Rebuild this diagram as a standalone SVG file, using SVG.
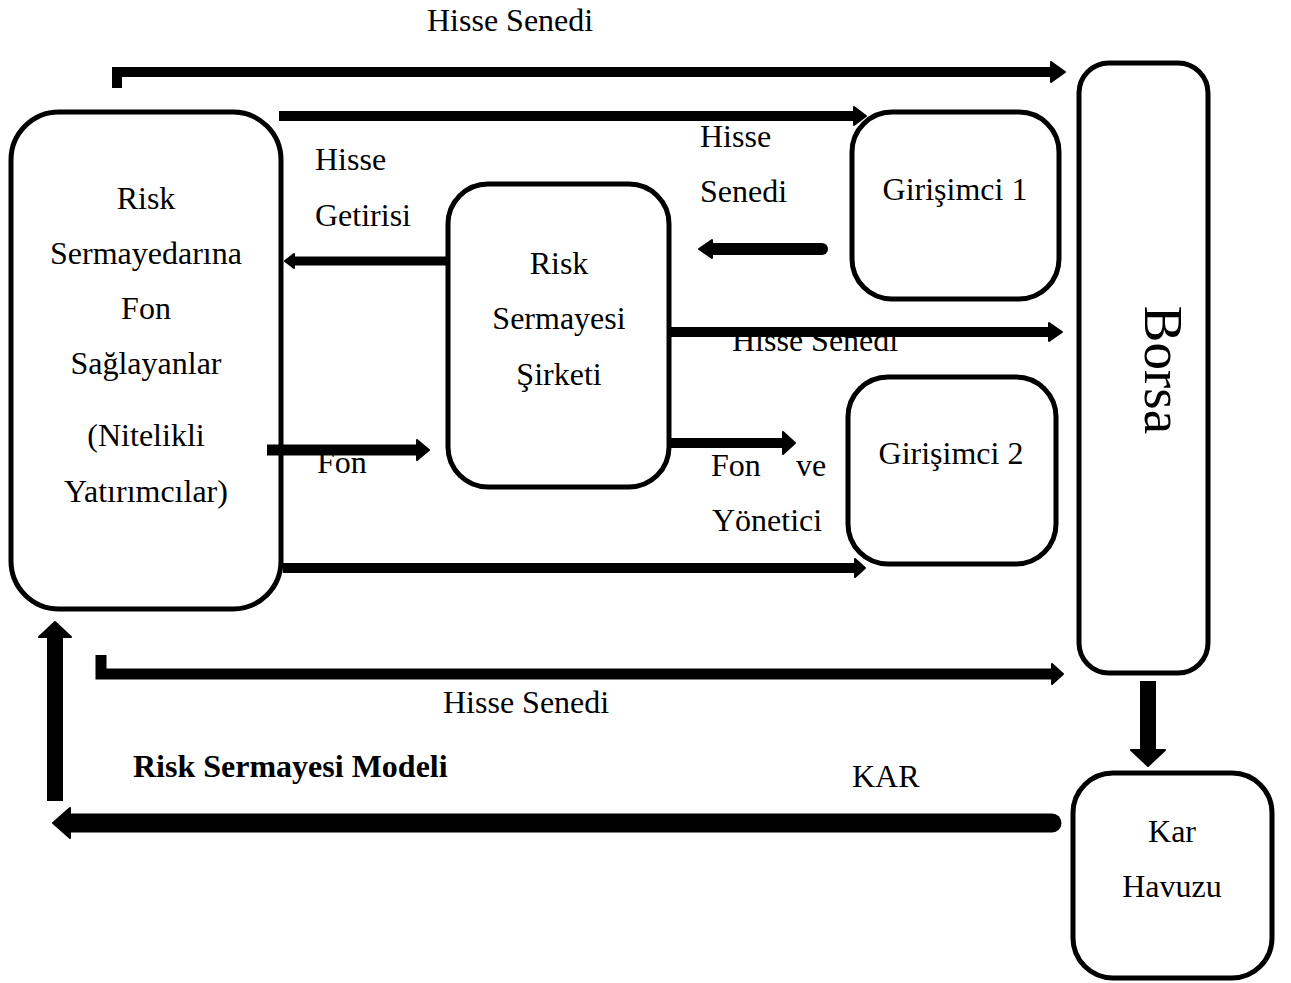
<svg xmlns="http://www.w3.org/2000/svg" width="1291" height="983" viewBox="0 0 1291 983">
<style>
.t{font-family:"Liberation Serif","Times New Roman",serif;font-size:32px;fill:#000}
.c{text-anchor:middle}
.b{font-weight:bold}
.node{fill:#fff;stroke:#000;stroke-width:5}
.bar{fill:none;stroke:#000;stroke-linejoin:miter}
.head{fill:#000;stroke:#000;stroke-width:2;stroke-linejoin:round}
</style>
<rect width="1291" height="983" fill="#fff"/>
<g id="node-fon-saglayanlar">
<rect class="node" x="11" y="112" width="270" height="497" rx="48"/>
<text class="t c" x="146" y="209">Risk</text>
<text class="t c" x="146" y="264">Sermayedarına</text>
<text class="t c" x="146" y="319">Fon</text>
<text class="t c" x="146" y="374">Sağlayanlar</text>
<text class="t c" x="146" y="446">(Nitelikli</text>
<text class="t c" x="146" y="502">Yatırımcılar)</text>
</g>
<g id="node-risk-sermayesi-sirketi">
<rect class="node" x="448" y="184" width="221" height="303" rx="40"/>
<text class="t c" x="559" y="274">Risk</text>
<text class="t c" x="559" y="329">Sermayesi</text>
<text class="t c" x="559" y="385">Şirketi</text>
</g>
<g id="node-girisimci-1">
<rect class="node" x="852" y="112" width="207" height="187" rx="40"/>
<text class="t c" x="955" y="200">Girişimci 1</text>
</g>
<g id="node-girisimci-2">
<rect class="node" x="848" y="377" width="208" height="187" rx="40"/>
<text class="t c" x="951" y="464">Girişimci 2</text>
</g>
<g id="node-borsa">
<rect class="node" x="1079" y="63" width="129" height="610" rx="30"/>
<text class="t c" style="font-size:55px" transform="translate(1145,370) rotate(90)">Borsa</text>
</g>
<g id="node-kar-havuzu">
<rect class="node" x="1073" y="773" width="199" height="205" rx="40"/>
<text class="t c" x="1172" y="842">Kar</text>
<text class="t c" x="1172" y="897">Havuzu</text>
</g>
<g id="labels">
<text class="t" x="427" y="31">Hisse Senedi</text>
<text class="t" x="315" y="170">Hisse</text>
<text class="t" x="315" y="226">Getirisi</text>
<text class="t" x="700" y="147">Hisse</text>
<text class="t" x="700" y="202">Senedi</text>
<text class="t" x="732" y="351">Hisse Senedi</text>
<text class="t" x="317" y="473">Fon</text>
<text class="t" x="711" y="476">Fon</text>
<text class="t" x="796" y="476">ve</text>
<text class="t" x="712" y="531">Yönetici</text>
<text class="t" x="443" y="713">Hisse Senedi</text>
<text class="t b" x="133" y="777">Risk Sermayesi Modeli</text>
<text class="t" x="852" y="787">KAR</text>
</g>
<g id="connectors">
<path class="bar" stroke-width="10" d="M117,88 V72 H1052"/>
<polygon class="head" points="1051,62 1065,72 1051,82"/>
<path class="bar" stroke-width="10" d="M279,116 H856"/>
<polygon class="head" points="854,107 866,116 854,125"/>
<path class="bar" stroke-width="9" d="M446,261 H292"/>
<polygon class="head" points="285,261 294,254 294,268"/>
<path class="bar" stroke-width="12" stroke-linecap="round" d="M822,249 H712"/>
<polygon class="head" points="699,249 712,240 712,258"/>
<path class="bar" stroke-width="10" d="M668,332 H1050"/>
<polygon class="head" points="1049,323 1062,332 1049,341"/>
<path class="bar" stroke-width="10" d="M668,443 H784"/>
<polygon class="head" points="783,432 795,443 783,454"/>
<path class="bar" stroke-width="11" d="M267,450 H418"/>
<polygon class="head" points="417,440 429,450 417,460"/>
<path class="bar" stroke-width="10" d="M283,568 H856"/>
<polygon class="head" points="855,559 865,568 855,577"/>
<path class="bar" stroke-width="11" d="M101,655 V674 H1053"/>
<polygon class="head" points="1052,664 1063,674 1052,684"/>
<path class="bar" stroke-width="16" d="M1148,681 V751"/>
<polygon class="head" points="1131,750 1165,750 1148,766"/>
<path class="bar" stroke-width="19" stroke-linecap="round" d="M1052,823 H70"/>
<polygon class="head" points="70,808 70,838 53,823"/>
<path class="bar" stroke-width="16" d="M55,801 V636"/>
<polygon class="head" points="39,637 71,637 55,622"/>
</g>
</svg>
